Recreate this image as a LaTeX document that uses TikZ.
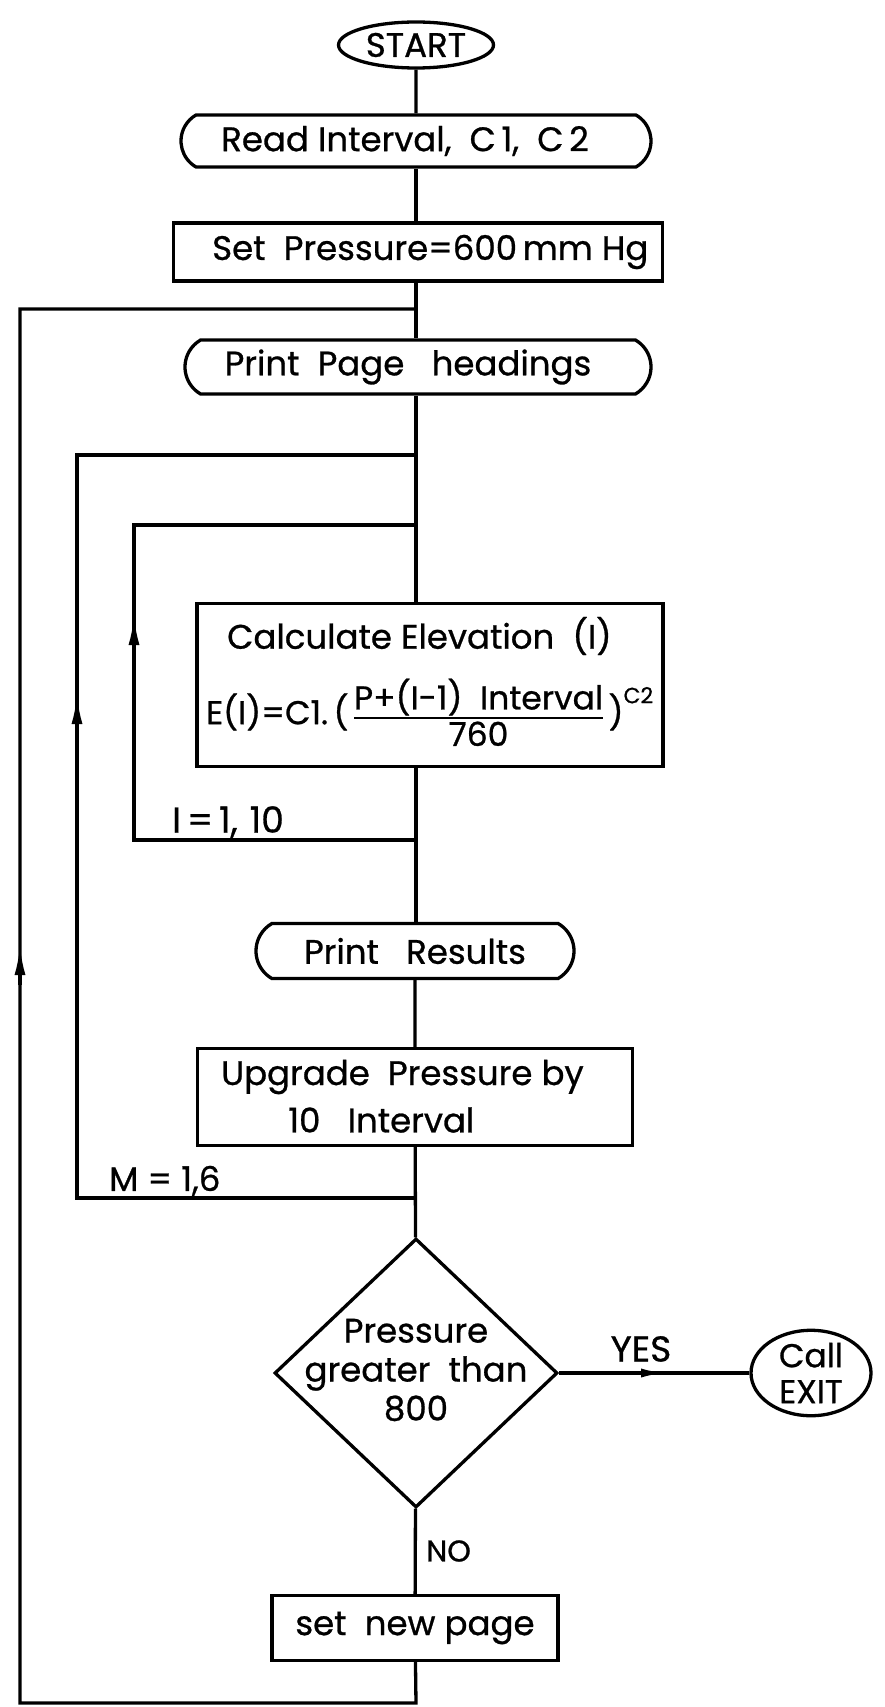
\documentclass[tikz,border=0pt]{standalone}
\usepackage{fontspec}
\setmainfont{Poppins}[FakeBold=0.8]
\usetikzlibrary{shapes.geometric,shapes.misc,arrows.meta}
\newcommand{\fsz}[2]{\fontsize{#1}{#2}\selectfont}
\begin{document}
\begin{tikzpicture}[x=1pt,y=-1pt,
  every node/.style={font=\fsz{34}{40}},
  line/.style={line width=3.3pt},
  box/.style={draw,line width=3.3pt,rectangle,inner sep=0pt},
  pill/.style={draw,line width=3.3pt,rounded rectangle,rounded rectangle arc length=120,inner sep=0pt},
  term/.style={draw,line width=3.3pt,ellipse,inner sep=0pt},
  dec/.style={draw,line width=3.3pt,diamond,inner sep=0pt},
  up/.style={line width=3.3pt,-{Latex[length=30pt,width=11pt]}},
  tip/.style={line width=3.3pt,-{Latex[length=26pt,width=9pt]}},
]
\useasboundingbox (0,0) rectangle (885,1707);

% nodes
\node[term,minimum width=155pt,minimum height=46pt] (start) at (416,45) {START};
\node[pill,minimum width=470pt,minimum height=52pt] (read) at (416,141) {\hspace{-22pt}Read\ Interval,\ \ C\,1,\ \ C\,2};
\node[box,minimum width=489pt,minimum height=58pt] (set) at (418,252) {};
\node[anchor=west,inner sep=0pt] (settxt) at (212,252) {Set\ \ Pressure=600\,mm Hg};
\node[pill,minimum width=466pt,minimum height=54pt] (head) at (418,367) {\hspace{-20pt}Print\ \ Page\ \ \ headings};
\node[box,minimum width=466pt,minimum height=163pt] (calc) at (430,685) {};
\node[anchor=west,inner sep=0pt] (calct) at (227,636) {Calculate\ Elevation\ \ (I)};
\node[anchor=west,inner sep=0pt,font=\fsz{33}{38}] (form) at (206,718) {E(I)=C1.\,(\,\setlength{\arrayrulewidth}{2.5pt}\begin{tabular}[c]{@{}c@{}}P+(I-1)\ \ Interval\\[-4pt]\hline 760\end{tabular}\,)\raisebox{21pt}{\fsz{22}{24}C2}};
\node[anchor=south west,inner sep=0pt,font=\fsz{36}{40}] (ilab) at (172,838) {I\,=\,1,\,\,10};
\node[pill,minimum width=318pt,minimum height=55pt] (res) at (415,951) {Print\ \ \ Results};
\node[box,minimum width=435pt,minimum height=97pt] (upg) at (415,1097) {};
\node[anchor=west,inner sep=0pt] (upg1) at (221,1077) {Upgrade\ \ Pressure by};
\node[anchor=west,inner sep=0pt] (upg2) at (288,1120) {10\ \ \ Interval};
\node[anchor=south west,inner sep=0pt] (mlab) at (109,1196) {M = 1,6};
\node[dec,minimum width=283pt,minimum height=269pt] (dec) at (416,1373) {};
\node[align=center,inner sep=0pt,font=\fsz{34}{39}] (dect) at (416,1370) {Pressure\\greater\ \ than\\800};
\node[term,minimum width=120pt,minimum height=85pt,align=center,font=\fsz{33}{36}] (exit) at (811,1373) {Call\\EXIT};
\node[anchor=south,inner sep=0pt,font=\fsz{36}{40}] (yes) at (641,1362) {YES};
\node[anchor=west,inner sep=0pt,font=\fsz{30}{36}] (no) at (426,1551) {NO};
\node[box,minimum width=286pt,minimum height=65pt] (snp) at (415,1628) {set\ \ new\ page};

% junctions
\coordinate (j1) at (416,309);  \coordinate (j1l) at (20,309);
\coordinate (j2) at (416,455);  \coordinate (j2l) at (77,455);
\coordinate (j3) at (416,525);  \coordinate (j3l) at (134,525);
\coordinate (j4) at (416,840);  \coordinate (j4l) at (134,840);
\coordinate (j5) at (416,1198); \coordinate (j5l) at (77,1198);
\coordinate (bt) at (416,1703); \coordinate (btl) at (20,1703);
\coordinate (a1) at (20,945);  \coordinate (a1b) at (20,985);
\coordinate (a2) at (77,694);  \coordinate (a2b) at (77,734);
\coordinate (a3) at (134,615); \coordinate (a3b) at (134,655);
\coordinate (ay) at (667,1373); \coordinate (ayb) at (627,1373);

% main flow
\draw[line] (start) -- (read);
\draw[line] (read.south) -- (read.south |- set.north);
\draw[line] (read.south |- set.south) -- (read.south |- head.north);
\draw[line] (read.south |- head.south) -- (read.south |- calc.north);
\draw[line] (read.south |- calc.south) -- (res.north -| read.south);
\draw[line] (res) -- (upg);
\draw[line] (upg) -- (dec);
\draw[line] (dec) -- (snp);
\draw[line] (dec.east) -- (exit.west);
\draw[tip] (ayb) -- (ay);

% loops
\draw[line] (j4) -- (j4l) -- (j3l) -- (j3);
\draw[up] (a3b) -- (a3);

\draw[line] (j5) -- (j5l) -- (j2l) -- (j2);
\draw[up] (a2b) -- (a2);

\draw[line] (snp) -- (bt) -- (btl) -- (j1l) -- (j1);
\draw[up] (a1b) -- (a1);
\end{tikzpicture}
\end{document}
